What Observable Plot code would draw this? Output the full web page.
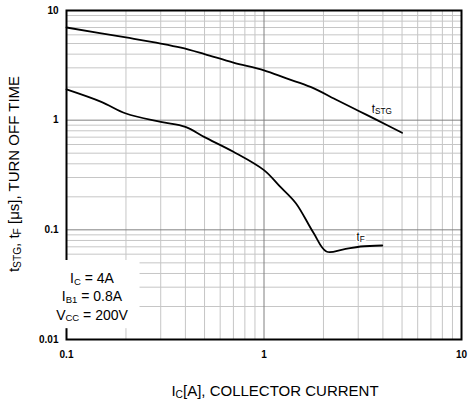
<!DOCTYPE html>
<html><head><meta charset="utf-8">
<script src="https://cdn.jsdelivr.net/npm/d3@7"></script>
<script src="https://cdn.jsdelivr.net/npm/@observablehq/plot@0.6"></script>
<style>body{margin:0;background:#fff} svg{font-family:"Liberation Sans",Arial,sans-serif}</style>
</head><body><div id="chart"></div>
<script>
// t_STG curve
const tstgX = [0.1, 0.2, 0.3, 0.38, 0.5, 0.7, 1, 1.3, 1.72, 2.35, 3, 3.74, 5];
const tstgY = [7.0, 5.68, 5.0, 4.58, 4.0, 3.35, 2.85, 2.4, 2.01, 1.52, 1.22, 1.0, 0.767];
// t_F curve
const tfX = [0.1, 0.15, 0.2, 0.3, 0.4, 0.5, 0.7, 1, 1.2, 1.45, 1.78, 2.07, 2.5, 3.08, 3.97];
const tfY = [1.91, 1.47, 1.15, 0.966, 0.87, 0.70, 0.515, 0.35, 0.25, 0.175, 0.094, 0.0635, 0.066, 0.0705, 0.072];
// curve labels (data coords)
const labelNames = [["t",""],["STG","sub"]];
const labelX = [3.97, 3.1];
const labelY = [1.15, 0.0786];
// ticks
const xMajor = [0.1, 1, 10];
const xTickLabels = ["0.1", "1", "10"];
const yMajor = [0.01, 0.1, 1, 10];
const yTickLabels = ["0.01", "0.1", "1", "10"];
const xMinor = [0.2,0.3,0.4,0.5,0.6,0.7,0.8,0.9,2,3,4,5,6,7,8,9];
const yMinor = [0.02,0.03,0.04,0.05,0.06,0.07,0.08,0.09,0.2,0.3,0.4,0.5,0.6,0.7,0.8,0.9,2,3,4,5,6,7,8,9];

const tstg = tstgX.map((x, i) => ({x, y: tstgY[i]}));
const tf = tfX.map((x, i) => ({x, y: tfY[i]}));
const xLab = new Map(xMajor.map((d, i) => [d, xTickLabels[i]]));
const yLab = new Map(yMajor.map((d, i) => [d, yTickLabels[i]]));

const plot = Plot.plot({
  width: 468, height: 403,
  marginLeft: 66, marginRight: 7, marginTop: 10, marginBottom: 64,
  style: {fontFamily: "Liberation Sans, Arial, sans-serif", background: "white", color: "black"},
  x: {type: "log", domain: [0.1, 10]},
  y: {type: "log", domain: [0.01, 10]},
  marks: [
    Plot.ruleX(xMinor, {stroke: "#c6c6c6", strokeWidth: 1}),
    Plot.ruleY(yMinor, {stroke: "#c6c6c6", strokeWidth: 1}),
    Plot.ruleX(xMajor, {stroke: "#808080", strokeWidth: 1}),
    Plot.ruleY(yMajor, {stroke: "#808080", strokeWidth: 1}),
    Plot.line(tstg, {x: "x", y: "y", curve: "catmull-rom", stroke: "#000", strokeWidth: 1.8}),
    Plot.line(tf, {x: "x", y: "y", curve: "catmull-rom", stroke: "#000", strokeWidth: 1.8}),
    Plot.frame({stroke: "#000", strokeWidth: 2}),
    Plot.axisX(xMajor, {tickSize: 0, tickPadding: 11, fontWeight: "bold", fontSize: 10, tickFormat: d => xLab.get(d), label: null}),
    Plot.axisY(yMajor, {tickSize: 0, tickPadding: 8, fontWeight: "bold", fontSize: 10, tickFormat: d => yLab.get(d), label: null})
  ]
});
document.getElementById("chart").appendChild(plot);

const svg = d3.select(plot);
const sx = plot.scale("x"), sy = plot.scale("y");

function rich(parent, x, y, parts, size, opts = {}) {
  const t = parent.append("text").attr("x", x).attr("y", y)
    .attr("font-size", size).attr("fill", "#000");
  if (opts.anchor) t.attr("text-anchor", opts.anchor);
  if (opts.transform) t.attr("transform", opts.transform);
  if (opts.halo) t.attr("stroke", "#fff").attr("stroke-width", 3).attr("paint-order", "stroke");
  for (const [s, kind] of parts) {
    const ts = t.append("tspan").text(s);
    if (kind === "sub") ts.attr("font-size", size * 0.68).attr("dy", size * 0.12);
    else if (kind === "back") ts.attr("dy", -size * 0.12);
  }
  return t;
}

// curve labels
rich(svg, sx.apply(labelX[0]), sy.apply(labelY[0]), [["t"], ["STG", "sub"]], 12, {halo: true});
rich(svg, sx.apply(labelX[1]), sy.apply(labelY[1]), [["t"], ["F", "sub"]], 12, {halo: true});

// legend
const lg = svg.append("g");
const bg = lg.append("rect").attr("fill", "#fff");
const lx = 92;
rich(lg, lx, 283, [["I"], ["C", "sub"], [" = 4A", "back"]], 14);
rich(lg, lx, 301, [["I"], ["B1", "sub"], [" = 0.8A", "back"]], 14);
rich(lg, lx, 319.5, [["V"], ["CC", "sub"], [" = 200V", "back"]], 14);
const bb = lg.node().getBBox();
bg.attr("x", bb.x - 12).attr("y", bb.y - 10).attr("width", bb.width + 23).attr("height", bb.height + 15);

// axis titles
rich(svg, 275, 396, [["I"], ["C", "sub"], ["[A], COLLECTOR CURRENT", "back"]], 15, {anchor: "middle"});
rich(svg, 0, 0, [["t"], ["STG", "sub"], [", t", "back"], ["F", "sub"], [" [μs], TURN OFF TIME", "back"]], 15,
  {anchor: "middle", transform: "translate(19,174) rotate(-90)"});
</script></body></html>
